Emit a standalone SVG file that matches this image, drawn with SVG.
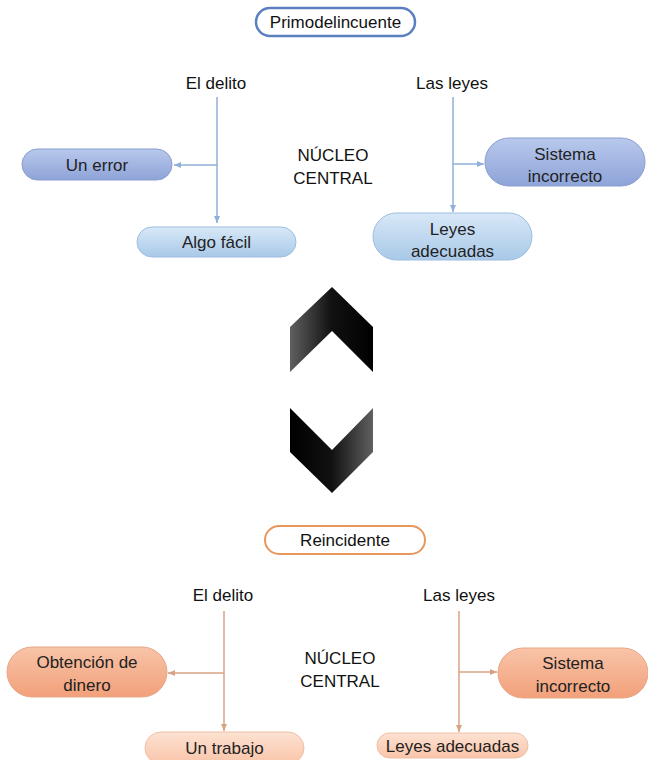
<svg xmlns="http://www.w3.org/2000/svg" width="648" height="760" viewBox="0 0 648 760">
<defs>
<style>
text{font-family:"Liberation Sans",Arial,sans-serif;font-size:17px;text-anchor:middle;dominant-baseline:central;fill:#111}
.nt{fill:#222}
.cb{stroke:#8fb0d8;stroke-width:1.5;fill:none}
.co{stroke:#d9a283;stroke-width:1.5;fill:none}
</style>
<linearGradient id="gDB" x1="0" y1="0" x2="0" y2="1"><stop offset="0" stop-color="#b8c9ec"/><stop offset="1" stop-color="#8ea3d8"/></linearGradient>
<linearGradient id="gLB" x1="0" y1="0" x2="0" y2="1"><stop offset="0" stop-color="#d8e8f7"/><stop offset="1" stop-color="#a8c9e8"/></linearGradient>
<linearGradient id="gDO" x1="0" y1="0" x2="0" y2="1"><stop offset="0" stop-color="#f8c4a8"/><stop offset="1" stop-color="#f2a07a"/></linearGradient>
<linearGradient id="gLO" x1="0" y1="0" x2="0" y2="1"><stop offset="0" stop-color="#fde2d3"/><stop offset="1" stop-color="#f9c4a8"/></linearGradient>
<linearGradient id="gUp" x1="0" y1="0" x2="1" y2="0"><stop offset="0" stop-color="#606060"/><stop offset="0.5" stop-color="#111"/><stop offset="1" stop-color="#000"/></linearGradient>
<linearGradient id="gDn" x1="0" y1="0" x2="1" y2="0"><stop offset="0" stop-color="#000"/><stop offset="0.5" stop-color="#111"/><stop offset="1" stop-color="#606060"/></linearGradient>
<marker id="ab" markerWidth="8" markerHeight="8" refX="7" refY="4" orient="auto" markerUnits="userSpaceOnUse"><path d="M0,1 L7,4 L0,7 Z" fill="#8fb0d8"/></marker>
<marker id="ao" markerWidth="8" markerHeight="8" refX="7" refY="4" orient="auto" markerUnits="userSpaceOnUse"><path d="M0,1 L7,4 L0,7 Z" fill="#d9a283"/></marker>
</defs>
<rect width="648" height="760" fill="#fff"/>

<g id="connectors">
<line class="cb" x1="217" y1="97" x2="217" y2="223" marker-end="url(#ab)"/>
<line class="cb" x1="217" y1="165" x2="174" y2="165" marker-end="url(#ab)"/>
<line class="cb" x1="453" y1="97" x2="453" y2="212" marker-end="url(#ab)"/>
<line class="cb" x1="453" y1="164" x2="484" y2="164" marker-end="url(#ab)"/>
<line class="co" x1="224" y1="611" x2="224" y2="731" marker-end="url(#ao)"/>
<line class="co" x1="224" y1="673" x2="168" y2="673" marker-end="url(#ao)"/>
<line class="co" x1="459" y1="611" x2="459" y2="732" marker-end="url(#ao)"/>
<line class="co" x1="459" y1="672" x2="497" y2="672" marker-end="url(#ao)"/>
</g>

<g id="primodelincuente">
<rect x="256" y="8" width="159" height="28" rx="14" fill="#fff" stroke="#5b80c2" stroke-width="2.5"/>
<text x="335.5" y="22">Primodelincuente</text>
</g>

<g id="el-delito-1"><text x="216" y="83">El delito</text></g>
<g id="las-leyes-1"><text x="452" y="83">Las leyes</text></g>
<g id="nucleo-1"><text x="333" y="155">NÚCLEO</text><text x="333" y="178">CENTRAL</text></g>

<g id="un-error">
<rect x="22" y="149" width="150" height="31" rx="15.5" fill="url(#gDB)" stroke="#8a9dcf" stroke-width="1"/>
<text class="nt" x="97" y="165">Un error</text>
</g>
<g id="algo-facil">
<rect x="137" y="227" width="159" height="30" rx="15" fill="url(#gLB)" stroke="#9dbde0" stroke-width="1"/>
<text class="nt" x="216.5" y="242">Algo fácil</text>
</g>
<g id="sistema-1">
<rect x="485" y="138" width="160" height="48" rx="24" fill="url(#gDB)" stroke="#8a9dcf" stroke-width="1"/>
<text class="nt" x="565" y="154">Sistema</text>
<text class="nt" x="565" y="176">incorrecto</text>
</g>
<g id="leyes-1">
<rect x="373" y="213" width="159" height="47" rx="23.5" fill="url(#gLB)" stroke="#9dbde0" stroke-width="1"/>
<text class="nt" x="452.5" y="229">Leyes</text>
<text class="nt" x="452.5" y="251">adecuadas</text>
</g>

<g id="chevron-up"><polygon points="332,287 373,327 373,372 332,331 290,372 290,327" fill="url(#gUp)"/></g>
<g id="chevron-down"><polygon points="290,408 332,450 373,408 373,452 332,493 290,452" fill="url(#gDn)"/></g>

<g id="reincidente">
<rect x="265" y="526" width="160" height="28" rx="14" fill="#fff" stroke="#e8975c" stroke-width="2"/>
<text x="345" y="540">Reincidente</text>
</g>

<g id="el-delito-2"><text x="223" y="595">El delito</text></g>
<g id="las-leyes-2"><text x="459" y="595">Las leyes</text></g>
<g id="nucleo-2"><text x="340" y="658">NÚCLEO</text><text x="340" y="681">CENTRAL</text></g>

<g id="obtencion">
<rect x="7" y="647" width="160" height="50" rx="25" fill="url(#gDO)" stroke="#e8a786" stroke-width="1"/>
<text class="nt" x="87" y="662">Obtención de</text>
<text class="nt" x="87" y="685">dinero</text>
</g>
<g id="un-trabajo">
<rect x="145" y="732" width="159" height="32" rx="16" fill="url(#gLO)" stroke="#eebfa5" stroke-width="1"/>
<text class="nt" x="224.5" y="748">Un trabajo</text>
</g>
<g id="sistema-2">
<rect x="498" y="648" width="150" height="50" rx="25" fill="url(#gDO)" stroke="#e8a786" stroke-width="1"/>
<text class="nt" x="573" y="663">Sistema</text>
<text class="nt" x="573" y="686">incorrecto</text>
</g>
<g id="leyes-2">
<rect x="377" y="733" width="151" height="25" rx="12.5" fill="url(#gLO)" stroke="#eebfa5" stroke-width="1"/>
<text class="nt" x="452.5" y="746">Leyes adecuadas</text>
</g>
</svg>
